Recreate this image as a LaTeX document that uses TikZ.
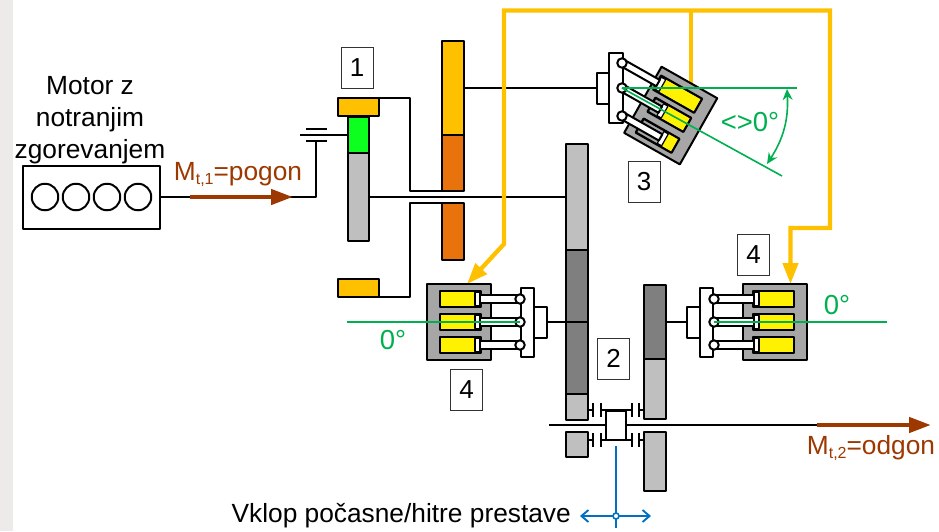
\documentclass[tikz,border=0pt]{standalone}
\usepackage{fontspec}
\setmainfont{Liberation Sans}
\usetikzlibrary{positioning,arrows.meta}
\definecolor{oilyellow}{HTML}{FFC000}
\definecolor{gearorange}{HTML}{E8720C}
\definecolor{geargreen}{HTML}{0DFF1F}
\definecolor{gearlight}{HTML}{BFBFBF}
\definecolor{geardark}{HTML}{7F7F7F}
\definecolor{blockgray}{HTML}{A6A6A6}
\definecolor{torquebrown}{HTML}{9C3800}
\definecolor{anglegreen}{HTML}{00B050}
\definecolor{shiftblue}{HTML}{0070C0}
\definecolor{bandgray}{HTML}{EDEAEA}
\tikzstyle{part}=[draw,line width=2pt,line join=round,inner sep=0pt,outer sep=0pt]
\tikzstyle{shaft}=[line width=1.9pt,line join=round]
\tikzstyle{oil}=[oilyellow,line width=4.3pt,line join=miter]
\tikzstyle{torque}=[torquebrown,line width=4.4pt,-{Triangle[length=22pt,width=15pt]}]
\tikzstyle{anglearrow}=[anglegreen,line width=1.6pt]
\tikzstyle{lever}=[shiftblue,line width=1.9pt]
\tikzstyle{pivot}=[part,circle,fill=white,minimum size=9.5pt]
\tikzstyle{numbox}=[draw=black!80,line width=.8pt,fill=white,inner sep=0pt,minimum width=32pt,minimum height=41pt,font=\fontsize{26}{26}\selectfont]
\tikzstyle{label}=[inner sep=0pt,font=\fontsize{26.3}{32}\selectfont]
\tikzstyle{anglelabel}=[inner sep=0pt,text=anglegreen,font=\fontsize{27.5}{28}\selectfont]
\newcommand{\subtext}[1]{\raisebox{-4pt}{\fontsize{16}{16}\selectfont #1}}
% row offset, bore start, piston, rod start
\newcommand{\pumprow}[4]{
  \draw[part,line width=2.3pt,fill=blockgray] (#2,#1-8) rectangle (80,#1+8);
  \fill[yellow] (#3+5,#1-6.8) rectangle (78.8,#1+6.8);
  \draw[part,line width=1.2pt,fill=white] (#3,#1-6.8) rectangle (#3+5,#1+6.8);
  \draw[part,fill=white] (#4,#1-3.6) rectangle (#3,#1+3.6);
}
\newcommand{\pumpfour}[1]{
  \draw[part,fill=white] (-1,-34.5) rectangle (-14,34.5);
  \draw[part,fill=white] (-14,-15.5) rectangle (-27,15.5);
  \draw[part,fill=blockgray] (29,-38) rectangle (93,38);
  \pumprow{-23}{39}{40}{0}
  \pumprow{0}{39}{40}{0}
  \pumprow{23}{39}{40}{0}
  \node[pivot] (#1up) at (0,-23) {};
  \node[pivot] (#1mid) at (0,0) {};
  \node[pivot] (#1low) at (0,23) {};
  \coordinate (#1boss) at (-27,0);
}

\begin{document}
\begin{tikzpicture}[x=1pt,y=-1pt,>=Stealth]
  \useasboundingbox (0,0) rectangle (939,531);
  \fill[bandgray] (0,0) rectangle (13,531);

  % engine
  \node[part,minimum width=137pt,minimum height=63pt] (engine) at (91.5,197) {};
  \foreach \i/\x in {1/45,2/76,3/107,4/138}
    \node[part,circle,minimum size=26.5pt] (cyl\i) at (\x,197) {};
  \node[label,align=center,anchor=south] (motor) at (90,164) {Motor z\\notranjim\\zgorevanjem};

  % planetary set
  \node[part,fill=geargreen,minimum width=21pt,minimum height=36pt] (sun) at (358.5,135) {};
  \node[part,fill=gearlight,minimum width=21pt,minimum height=88pt,below=0pt of sun] (carrier) {};
  \node[part,fill=oilyellow,minimum width=41pt,minimum height=18pt] (ringup) at (358.5,107) {};
  \node[part,fill=oilyellow,minimum width=41pt,minimum height=18pt] (ringlow) at (358.5,288) {};
  \node[part,fill=oilyellow,minimum width=22pt,minimum height=94pt] (gearup) at (453,88) {};
  \node[part,fill=gearorange,minimum width=22pt,minimum height=56pt,below=0pt of gearup] (gearmid) {};
  \node[part,fill=gearorange,minimum width=22pt,minimum height=57pt] (gearlow) at (453,231.5) {};

  % output gears
  \node[part,fill=gearlight,minimum width=22pt,minimum height=106pt] (bigup) at (577,197) {};
  \node[part,fill=geardark,minimum width=22pt,minimum height=144pt,below=0pt of bigup] (bigmid) {};
  \node[part,fill=gearlight,minimum width=22pt,minimum height=26pt,below=0pt of bigmid] (biglow) {};
  \node[part,fill=gearlight,minimum width=22pt,minimum height=25pt] (bigfree) at (577,444.5) {};
  \node[part,fill=geardark,minimum width=22pt,minimum height=74pt] (smallup) at (655,322) {};
  \node[part,fill=gearlight,minimum width=22pt,minimum height=60pt,below=0pt of smallup] (smalllow) {};
  \node[part,fill=gearlight,minimum width=22pt,minimum height=59pt] (smallfree) at (655,461.5) {};
  \node[part,fill=white,minimum width=20pt,minimum height=29pt] (sleeve) at (616,425.5) {};

  % shafts
  \coordinate (lockleft) at (300,135);
  \coordinate (lockmid) at (316,141);
  \coordinate (inshaft) at (316,197);
  \coordinate (outleft) at (549,425);
  \coordinate (outstart) at (817,425);
  \coordinate (outend) at (931,425);
  \draw[shaft] (engine.east) -- (inshaft) -- (lockmid);
  \draw[shaft] (lockleft) -- (sun.west);
  \draw[shaft] (306,129) -- (327,129) (306,141) -- (327,141);
  \draw[shaft] (carrier.east) -- (bigup.west);
  \draw[shaft] (ringup.north east) -- (410,98) -- (410,191) -- (gearmid.south west);
  \draw[shaft] (ringlow.south east) -- (410,297) -- (410,203) -- (gearlow.north west);
  \draw[shaft] (outleft) -- (sleeve.west |- outleft);
  \draw[shaft] (sleeve.east |- outleft) -- (outstart);
  \draw[shaft] (gearup.east) -- (597,88);
  \foreach \y in {410,440} {
    \draw[shaft] (588,\y) -- (593,\y) (593,\y-7) -- (593,\y+7);
    \draw[shaft] (601,\y-7) -- (601,\y+7) (601,\y) -- (632,\y) (632,\y-7) -- (632,\y+7);
    \draw[shaft] (639,\y-7) -- (639,\y+7) (639,\y) -- (644,\y);
  }

  % oil lines
  \coordinate (oiltipleft) at (467,284);
  \coordinate (oilleft) at (504,10.5);
  \coordinate (oilmid) at (691,10.5);
  \coordinate (oilright) at (830,10.5);
  \coordinate (oiltipright) at (790.5,284);
  \draw[oil,{Triangle[length=21pt,width=15pt]}-{Triangle[length=21pt,width=15pt]}]
    (oiltipleft) -- (504,244) -- (oilleft) -- (oilright) -- (830,228) -- (790.5,228) -- (oiltipright);
  \draw[oil] (oilmid) -- (691,90);

  % adjustable unit
  \begin{scope}[shift={(617.6,85.5)},rotate=-29.5]
    \draw[part,fill=blockgray] (29,-38) rectangle (93,38);
    \pumprow{-22}{33}{34}{-7}
    \pumprow{0}{39}{49}{5}
    \pumprow{24}{39}{63}{19}
  \end{scope}
  \node[part,fill=white,minimum width=14pt,minimum height=70pt] (swash) at (616,88) {};
  \node[part,fill=white,minimum width=12pt,minimum height=31pt,left=0pt of swash] (swashboss) {};
  \node[pivot] (topup) at (622,63) {};
  \node[pivot] (topmid) at (622,88) {};
  \node[pivot] (toplow) at (622,116) {};

  % fixed units
  \begin{scope}[shift={(520,322)},xscale=-1]
    \pumpfour{left}
  \end{scope}
  \begin{scope}[shift={(714,322)}]
    \pumpfour{right}
  \end{scope}
  \draw[shaft] (leftboss) -- (bigmid.east |- leftboss);
  \draw[shaft] (rightboss) -- (smallup.east |- rightboss);

  % angles
  \coordinate (toph) at (797,88);
  \coordinate (topa) at (782,176);
  \coordinate (lefth) at (347,322);
  \coordinate (righth) at (887,322);
  \coordinate (arcup) at (787,89);
  \coordinate (arclow) at (767,164);
  \draw[anglearrow] (topmid.center) -- (toph);
  \draw[anglearrow] (topmid.center) -- (topa);
  \draw[anglearrow,{Stealth[length=11pt,width=10pt]}-{Stealth[length=11pt,width=10pt]}] (arcup) to[bend left=18] (arclow);
  \draw[anglearrow] (lefth) -- (leftmid.center);
  \draw[anglearrow] (rightmid.center) -- (righth);
  \node[anglelabel] (angletop) at (750,122) {<>0°};
  \node[anglelabel] (angleleft) at (393,340) {0°};
  \node[anglelabel] (angleright) at (837,305) {0°};

  % torque
  \coordinate (instart) at (190,197);
  \coordinate (inend) at (293,197);
  \draw[torque] (instart) -- (inend);
  \draw[torque] (outstart) -- (outend);
  \node[label,text=torquebrown] (torquein) at (238,174) {M\subtext{t,1}=pogon};
  \node[label,text=torquebrown] (torqueout) at (871,448) {M\subtext{t,2}=odgon};

  % shift lever
  \node[part,draw=shiftblue,circle,fill=white,line width=1.6pt,minimum size=6pt] (hub) at (616,516) {};
  \coordinate (levertop) at (616,446);
  \coordinate (leverend) at (616,528);
  \coordinate (leverleft) at (580,516);
  \coordinate (leverright) at (651,516);
  \draw[lever] (levertop) -- (hub) -- (leverend);
  \draw[lever,-{Straight Barb[length=7pt,width=12pt]}] (hub) -- (leverleft);
  \draw[lever,-{Straight Barb[length=7pt,width=12pt]}] (hub) -- (leverright);
  \node[label,anchor=east] (shifttext) at (571,516) {Vklop počasne/hitre prestave};

  % numbers
  \node[numbox] (n1) at (357,67.5) {1};
  \node[numbox] (n2) at (613.5,358.5) {2};
  \node[numbox] (n3) at (644,181.5) {3};
  \node[numbox] (n4l) at (466.5,389.5) {4};
  \node[numbox] (n4r) at (753.5,254.5) {4};
\end{tikzpicture}
\end{document}
